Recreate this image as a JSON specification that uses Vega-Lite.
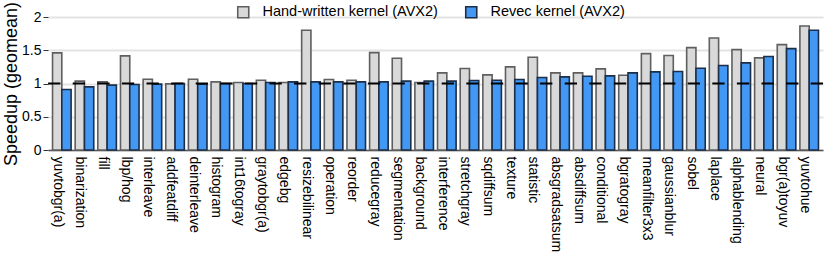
{
  "$schema": "https://vega.github.io/schema/vega-lite/v6.json",
  "width": 775,
  "height": 133,
  "autosize": {"type": "none"},
  "padding": {"left": 48, "top": 17, "right": 8, "bottom": 106},
  "config": {
    "view": {"stroke": null},
    "font": "Liberation Sans",
    "axis": {"labelColor": "#000", "titleColor": "#000"},
    "axisY": {
      "labelOverlap": false,
      "labelFontSize": 14,
      "labelPadding": 2,
      "tickSize": 5,
      "tickColor": "#333333",
      "domain": false,
      "grid": true,
      "gridWidth": 2,
      "gridColor": "#e3e3e3",
      "titleFontSize": 18,
      "titleFontWeight": "normal",
      "titlePadding": 1
    }
  },
  "datasets": {
    "speed": [
      {"kernel": "yuvtobgr(a)", "impl": "Hand-written kernel (AVX2)", "speedup": 1.46},
      {"kernel": "yuvtobgr(a)", "impl": "Revec kernel (AVX2)", "speedup": 0.91},
      {"kernel": "binarization", "impl": "Hand-written kernel (AVX2)", "speedup": 1.035},
      {"kernel": "binarization", "impl": "Revec kernel (AVX2)", "speedup": 0.95},
      {"kernel": "fill", "impl": "Hand-written kernel (AVX2)", "speedup": 1.025},
      {"kernel": "fill", "impl": "Revec kernel (AVX2)", "speedup": 0.975},
      {"kernel": "lbp/hog", "impl": "Hand-written kernel (AVX2)", "speedup": 1.415},
      {"kernel": "lbp/hog", "impl": "Revec kernel (AVX2)", "speedup": 0.985},
      {"kernel": "interleave", "impl": "Hand-written kernel (AVX2)", "speedup": 1.065},
      {"kernel": "interleave", "impl": "Revec kernel (AVX2)", "speedup": 0.99},
      {"kernel": "addfeatdiff", "impl": "Hand-written kernel (AVX2)", "speedup": 0.995},
      {"kernel": "addfeatdiff", "impl": "Revec kernel (AVX2)", "speedup": 1.0},
      {"kernel": "deinterleave", "impl": "Hand-written kernel (AVX2)", "speedup": 1.065},
      {"kernel": "deinterleave", "impl": "Revec kernel (AVX2)", "speedup": 0.99},
      {"kernel": "histogram", "impl": "Hand-written kernel (AVX2)", "speedup": 1.025},
      {"kernel": "histogram", "impl": "Revec kernel (AVX2)", "speedup": 1.0},
      {"kernel": "int16togray", "impl": "Hand-written kernel (AVX2)", "speedup": 1.015},
      {"kernel": "int16togray", "impl": "Revec kernel (AVX2)", "speedup": 1.0},
      {"kernel": "graytobgr(a)", "impl": "Hand-written kernel (AVX2)", "speedup": 1.05},
      {"kernel": "graytobgr(a)", "impl": "Revec kernel (AVX2)", "speedup": 1.015},
      {"kernel": "edgebg", "impl": "Hand-written kernel (AVX2)", "speedup": 1.015},
      {"kernel": "edgebg", "impl": "Revec kernel (AVX2)", "speedup": 1.025},
      {"kernel": "resizebilinear", "impl": "Hand-written kernel (AVX2)", "speedup": 1.8},
      {"kernel": "resizebilinear", "impl": "Revec kernel (AVX2)", "speedup": 1.025},
      {"kernel": "operation", "impl": "Hand-written kernel (AVX2)", "speedup": 1.06},
      {"kernel": "operation", "impl": "Revec kernel (AVX2)", "speedup": 1.025},
      {"kernel": "reorder", "impl": "Hand-written kernel (AVX2)", "speedup": 1.05},
      {"kernel": "reorder", "impl": "Revec kernel (AVX2)", "speedup": 1.025},
      {"kernel": "reducegray", "impl": "Hand-written kernel (AVX2)", "speedup": 1.465},
      {"kernel": "reducegray", "impl": "Revec kernel (AVX2)", "speedup": 1.025},
      {"kernel": "segmentation", "impl": "Hand-written kernel (AVX2)", "speedup": 1.38},
      {"kernel": "segmentation", "impl": "Revec kernel (AVX2)", "speedup": 1.035},
      {"kernel": "background", "impl": "Hand-written kernel (AVX2)", "speedup": 1.015},
      {"kernel": "background", "impl": "Revec kernel (AVX2)", "speedup": 1.035},
      {"kernel": "interference", "impl": "Hand-written kernel (AVX2)", "speedup": 1.16},
      {"kernel": "interference", "impl": "Revec kernel (AVX2)", "speedup": 1.035},
      {"kernel": "stretchgray", "impl": "Hand-written kernel (AVX2)", "speedup": 1.225},
      {"kernel": "stretchgray", "impl": "Revec kernel (AVX2)", "speedup": 1.045},
      {"kernel": "sqdiffsum", "impl": "Hand-written kernel (AVX2)", "speedup": 1.13},
      {"kernel": "sqdiffsum", "impl": "Revec kernel (AVX2)", "speedup": 1.05},
      {"kernel": "texture", "impl": "Hand-written kernel (AVX2)", "speedup": 1.25},
      {"kernel": "texture", "impl": "Revec kernel (AVX2)", "speedup": 1.06},
      {"kernel": "statistic", "impl": "Hand-written kernel (AVX2)", "speedup": 1.395},
      {"kernel": "statistic", "impl": "Revec kernel (AVX2)", "speedup": 1.09},
      {"kernel": "absgradsatsum", "impl": "Hand-written kernel (AVX2)", "speedup": 1.16},
      {"kernel": "absgradsatsum", "impl": "Revec kernel (AVX2)", "speedup": 1.1},
      {"kernel": "absdiffsum", "impl": "Hand-written kernel (AVX2)", "speedup": 1.16},
      {"kernel": "absdiffsum", "impl": "Revec kernel (AVX2)", "speedup": 1.11},
      {"kernel": "conditional", "impl": "Hand-written kernel (AVX2)", "speedup": 1.22},
      {"kernel": "conditional", "impl": "Revec kernel (AVX2)", "speedup": 1.115},
      {"kernel": "bgratogray", "impl": "Hand-written kernel (AVX2)", "speedup": 1.125},
      {"kernel": "bgratogray", "impl": "Revec kernel (AVX2)", "speedup": 1.16},
      {"kernel": "meanfilter3x3", "impl": "Hand-written kernel (AVX2)", "speedup": 1.45},
      {"kernel": "meanfilter3x3", "impl": "Revec kernel (AVX2)", "speedup": 1.175},
      {"kernel": "gaussianblur", "impl": "Hand-written kernel (AVX2)", "speedup": 1.42},
      {"kernel": "gaussianblur", "impl": "Revec kernel (AVX2)", "speedup": 1.18},
      {"kernel": "sobel", "impl": "Hand-written kernel (AVX2)", "speedup": 1.54},
      {"kernel": "sobel", "impl": "Revec kernel (AVX2)", "speedup": 1.23},
      {"kernel": "laplace", "impl": "Hand-written kernel (AVX2)", "speedup": 1.685},
      {"kernel": "laplace", "impl": "Revec kernel (AVX2)", "speedup": 1.27},
      {"kernel": "alphablending", "impl": "Hand-written kernel (AVX2)", "speedup": 1.51},
      {"kernel": "alphablending", "impl": "Revec kernel (AVX2)", "speedup": 1.31},
      {"kernel": "neural", "impl": "Hand-written kernel (AVX2)", "speedup": 1.385},
      {"kernel": "neural", "impl": "Revec kernel (AVX2)", "speedup": 1.405},
      {"kernel": "bgr(a)toyuv", "impl": "Hand-written kernel (AVX2)", "speedup": 1.585},
      {"kernel": "bgr(a)toyuv", "impl": "Revec kernel (AVX2)", "speedup": 1.525},
      {"kernel": "yuvtohue", "impl": "Hand-written kernel (AVX2)", "speedup": 1.865},
      {"kernel": "yuvtohue", "impl": "Revec kernel (AVX2)", "speedup": 1.8}
    ],
    "ref": [{"baseline": 1}]
  },
  "layer": [
    {
      "data": {"name": "speed"},
      "mark": {"type": "bar", "strokeWidth": 1.6, "strokeJoin": "miter"},
      "encoding": {
        "x": {
          "field": "kernel",
          "type": "nominal",
          "sort": null,
          "scale": {"paddingInner": 0.18, "paddingOuter": 0.2},
          "axis": {
            "title": null,
            "labelAngle": 90,
            "labelAlign": "left",
            "labelBaseline": "middle",
            "labelFontSize": 14,
            "labelPadding": 6,
            "labelOffset": -4,
            "labelOverlap": false,
            "ticks": false,
            "domainColor": "#555555",
            "domainWidth": 1.5,
            "grid": false
          }
        },
        "xOffset": {
          "field": "impl",
          "type": "nominal",
          "sort": ["Hand-written kernel (AVX2)", "Revec kernel (AVX2)"],
          "scale": {"paddingInner": 0, "paddingOuter": 0}
        },
        "y": {
          "field": "speedup",
          "type": "quantitative",
          "scale": {"domain": [0, 2], "nice": false},
          "axis": {
            "title": "Speedup (geomean)",
            "values": [0, 0.5, 1, 1.5, 2],
            "format": "~g"
          }
        },
        "fill": {
          "field": "impl",
          "type": "nominal",
          "scale": {
            "domain": ["Hand-written kernel (AVX2)", "Revec kernel (AVX2)"],
            "range": ["#d9d9d9", "#4298f2"]
          },
          "legend": {
            "title": null,
            "orient": "none",
            "direction": "horizontal",
            "legendX": 188,
            "legendY": -12,
            "symbolType": "square",
            "symbolSize": 121,
            "symbolStrokeWidth": 1.6,
            "labelFontSize": 14.5,
            "labelLimit": 400,
            "labelOffset": 12,
            "columnPadding": 24,
            "labelColor": "#000"
          }
        },
        "stroke": {
          "field": "impl",
          "type": "nominal",
          "scale": {
            "domain": ["Hand-written kernel (AVX2)", "Revec kernel (AVX2)"],
            "range": ["#5f5f5f", "#1c2e48"]
          },
          "legend": null
        }
      }
    },
    {
      "data": {"name": "ref"},
      "mark": {"type": "rule", "color": "#000000", "strokeWidth": 2, "strokeDash": [12.3, 12.3]},
      "encoding": {
        "y": {
          "field": "baseline",
          "type": "quantitative",
          "axis": {
            "title": "Speedup (geomean)",
            "values": [0, 0.5, 1, 1.5, 2],
            "format": "~g"
          }
        }
      }
    }
  ]
}
